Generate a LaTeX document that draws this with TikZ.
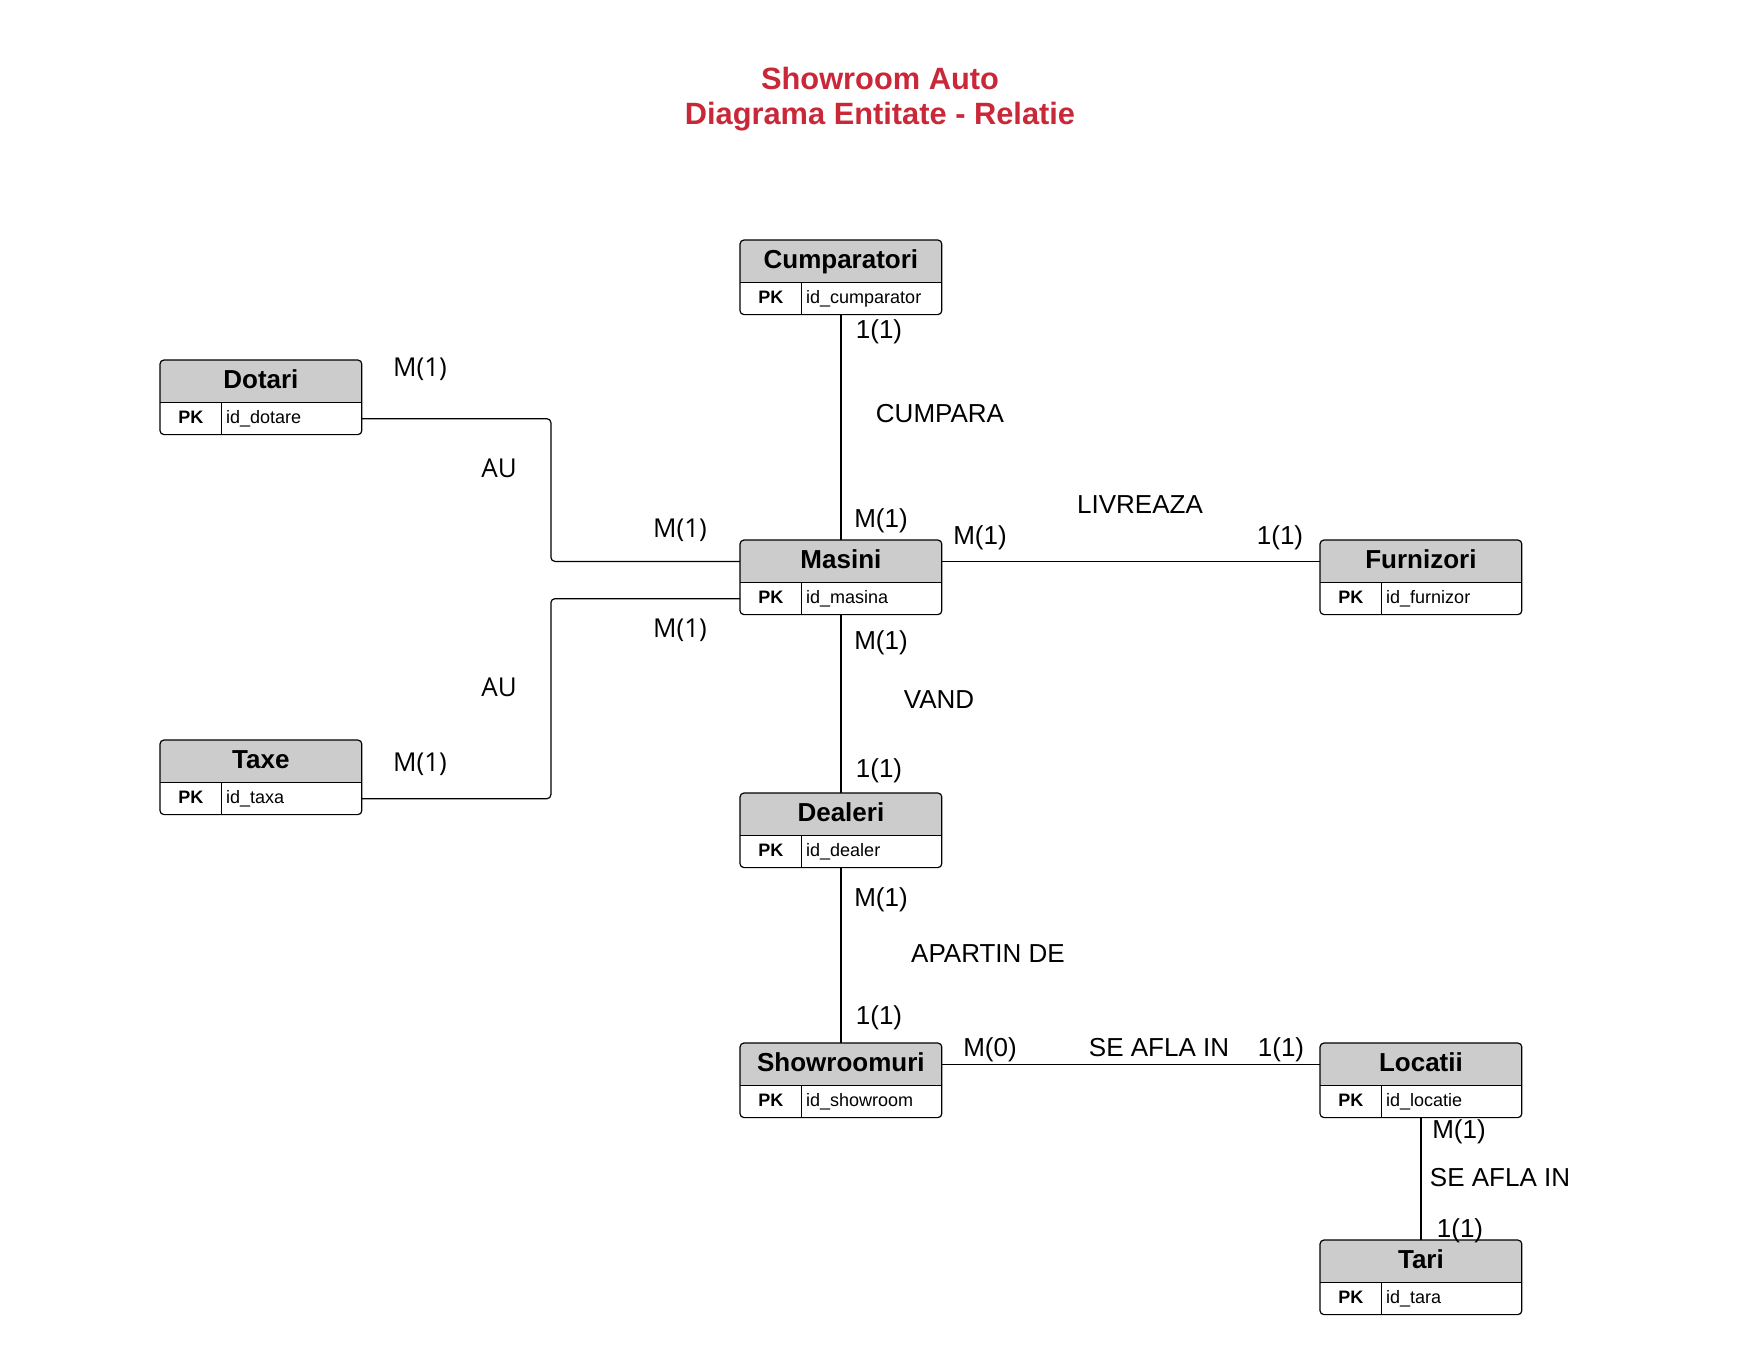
\documentclass[tikz,border=0pt]{standalone}
\usepackage{fontspec}
\setmainfont{Liberation Sans}
\newfontfamily\opensans{Open Sans}
\usetikzlibrary{calc}
\definecolor{titlered}{RGB}{200,40,56}
\definecolor{headgray}{RGB}{204,204,204}

\begin{document}
\begin{tikzpicture}[x=0.5pt, y=-0.5pt,
    entity/.style={minimum width=100.5pt, minimum height=21pt, inner sep=0pt,
        font=\bfseries\fontsize{13}{15}\selectfont, text height=9.3pt, text depth=2.3pt},
    pkcell/.style={minimum width=30.5pt, minimum height=15.5pt, inner sep=0pt,
        font=\bfseries\fontsize{9}{11}\selectfont, text height=6.45pt, text depth=1.8pt},
    keycell/.style={inner xsep=2pt, inner ysep=0pt,
        font=\fontsize{9}{11}\selectfont, text height=6.45pt, text depth=1.8pt},
    card/.style={inner sep=0pt, font=\fontsize{13}{15}\selectfont,
        text height=9.3pt, text depth=0pt},
    cardo/.style={card, font=\opensans\fontsize{13}{15}\selectfont},
    title/.style={inner sep=0pt, text=titlered, font=\bfseries\fontsize{15.4}{18}\selectfont,
        text height=11pt, text depth=0pt},
    link/.style={line width=0.6pt, rounded corners=2pt},
]

    \useasboundingbox (0,0) rectangle (1760,1360);

    % title
    \node[title] (title1) at (880,78)  {Showroom Auto};
    \node[title] (title2) at (880,113) {Diagrama Entitate - Relatie};

    % entities: name / left / top / key
    \foreach \n/\x/\y/\key in {Dotari/160/360/dotare, Cumparatori/740/240/cumparator,
        Masini/740/540/masina, Furnizori/1320/540/furnizor, Taxe/160/740/taxa,
        Dealeri/740/793/dealer, Showroomuri/740/1043/showroom,
        Locatii/1320/1043/locatie, Tari/1320/1240/tara} {
        \fill[headgray, rounded corners=2pt] (\x,\y+42) -- (\x,\y) -- (\x+201,\y) -- (\x+201,\y+42);
        \node[entity, anchor=north west] (\n) at (\x,\y) {\n};
        \node[pkcell, anchor=north west] (\n-pk) at (\n.south west) {PK};
        \node[keycell, anchor=west] (\n-key) at (\n-pk.east) {id\_\key};
        \coordinate (\n-row) at (\n.east |- \n-pk.east);
        \coordinate (\n-bot) at (\n.center |- \n-pk.south);
        \draw[line width=0.6pt, rounded corners=2pt] (\n.north west) rectangle (\n-row |- \n-pk.south);
        \draw[line width=0.6pt] (\n.south west) -- (\n.south east)
            (\n-pk.north east) -- (\n-pk.south east);
    }

    % relations
    \draw[link] (Dotari-row) -| ($(Dotari-row)!0.5!(Masini.west)$) |- (Masini.west);
    \draw[link] (Taxe-row) -| ($(Taxe-row)!0.5!(Masini-pk.west)$) |- (Masini-pk.west);
    \draw[link] (Cumparatori-bot) -- (Masini.north);
    \draw[link] (Masini.east) -- (Furnizori.west);
    \draw[link] (Masini-bot) -- (Dealeri.north);
    \draw[link] (Dealeri-bot) -- (Showroomuri.north);
    \draw[link] (Showroomuri.east) -- (Locatii.west);
    \draw[link] (Locatii-bot) -- (Tari.north);

    % cardinalities and relation names
    \node[cardo] (m_dotari)      at (420,367)  {M(1)};
    \node[cardo] (au_dotari)     at (499,468)  {AU};
    \node[cardo] (m_masini_up)   at (680,528)  {M(1)};
    \node[cardo] (m_masini_low)  at (680,628)  {M(1)};
    \node[cardo] (au_taxe)       at (499,687)  {AU};
    \node[cardo] (m_taxe)        at (420,762)  {M(1)};
    \node[card]  (c_cumparatori) at (879,329)  {1(1)};
    \node[card]  (rel_cumpara)   at (940,413)  {CUMPARA};
    \node[card]  (m_masini_top)  at (881,518)  {M(1)};
    \node[card]  (m_masini_right) at (980,535) {M(1)};
    \node[card]  (rel_livreaza)  at (1140,504) {LIVREAZA};
    \node[card]  (c_furnizori)   at (1280,535) {1(1)};
    \node[card]  (m_masini_bot)  at (881,640)  {M(1)};
    \node[card]  (rel_vand)      at (939,699)  {VAND};
    \node[card]  (c_dealeri)     at (879,768)  {1(1)};
    \node[card]  (m_dealeri)     at (881,897)  {M(1)};
    \node[card]  (rel_apartin)   at (988,953)  {APARTIN DE};
    \node[card]  (c_showroom)    at (879,1015) {1(1)};
    \node[card]  (m_showroom)    at (990,1047) {M(0)};
    \node[card]  (rel_afla)      at (1159,1047) {SE AFLA IN};
    \node[card]  (c_locatii)     at (1281,1047) {1(1)};
    \node[card]  (m_locatii)     at (1459,1129) {M(1)};
    \node[card]  (rel_afla_tari) at (1500,1177) {SE AFLA IN};
    \node[card]  (c_tari)        at (1460,1228) {1(1)};

\end{tikzpicture}
\end{document}
